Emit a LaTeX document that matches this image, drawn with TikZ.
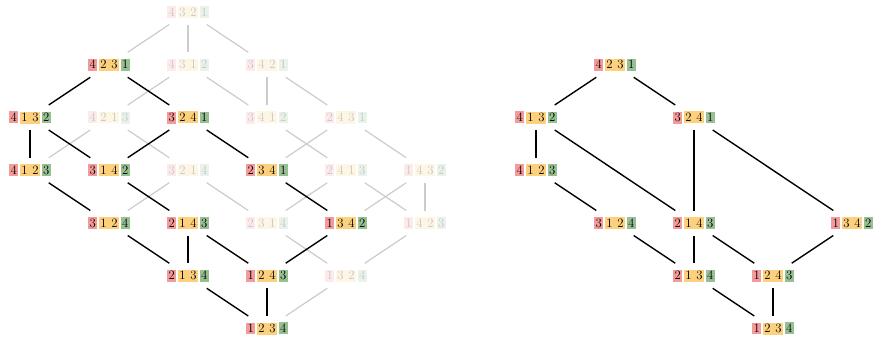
\documentclass[tikz,border=0pt]{standalone}
\usepackage{fontspec}
\usepackage{xcolor}
\definecolor{pr}{RGB}{244,154,154}
\definecolor{py}{RGB}{252,208,124}
\definecolor{pg}{RGB}{150,192,146}
\colorlet{prf}{pr!20}
\colorlet{pyf}{py!20}
\colorlet{pgf}{pg!20}
\colorlet{txf}{black!22}
\setlength{\fboxsep}{1.6pt}
\newcommand\pq[4]{\colorbox{pr}{#1}\hspace{1.4pt}\colorbox{py}{#2\hspace{4.6pt}#3}\hspace{1.4pt}\colorbox{pg}{#4}}
\newcommand\pf[4]{\textcolor{txf}{\colorbox{prf}{#1}\hspace{1.4pt}\colorbox{pyf}{#2\hspace{4.6pt}#3}\hspace{1.4pt}\colorbox{pgf}{#4}}}
\begin{document}
\begin{tikzpicture}[x=1pt,y=-1pt,
  pn/.style={inner sep=0pt,outer sep=0pt,minimum height=25pt,minimum width=44pt,font=\fontsize{12.8}{14}\selectfont},
  dk/.style={line width=1.4pt,black},
  lt/.style={line width=1.2pt,black!20}]
\useasboundingbox (0,0) rectangle (878,340);
% ---------- left diagram ----------
\node[pn] (L4321) at (188,12) {\pf4321};
\node[pn] (L4231) at (109,64.75) {\pq4231};
\node[pn] (L4312) at (188,64.75) {\pf4312};
\node[pn] (L3421) at (267,64.75) {\pf3421};
\node[pn] (L4132) at (30,117.5) {\pq4132};
\node[pn] (L4213) at (109,117.5) {\pf4213};
\node[pn] (L3241) at (188,117.5) {\pq3241};
\node[pn] (L3412) at (267,117.5) {\pf3412};
\node[pn] (L2431) at (346,117.5) {\pf2431};
\node[pn] (L4123) at (30,170.25) {\pq4123};
\node[pn] (L3142) at (109,170.25) {\pq3142};
\node[pn] (L3214) at (188,170.25) {\pf3214};
\node[pn] (L2341) at (267,170.25) {\pq2341};
\node[pn] (L2413) at (346,170.25) {\pf2413};
\node[pn] (L1432) at (425,170.25) {\pf1432};
\node[pn] (L3124) at (109,223) {\pq3124};
\node[pn] (L2143) at (188,223) {\pq2143};
\node[pn] (L2314) at (267,223) {\pf2314};
\node[pn] (L1342) at (346,223) {\pq1342};
\node[pn] (L1423) at (425,223) {\pf1423};
\node[pn] (L2134) at (188,275.75) {\pq2134};
\node[pn] (L1243) at (267,275.75) {\pq1243};
\node[pn] (L1324) at (346,275.75) {\pf1324};
\node[pn] (L1234) at (267,328.5) {\pq1234};
\foreach \a/\b in {4321/4231,4321/4312,4321/3421,4312/4213,4312/3412,3421/3412,3421/2431,
  4213/4123,4213/3214,3412/2413,2431/1432,2431/2341,3214/3124,3214/2314,2413/1423,2413/2314,
  1432/1423,1432/1342,2314/1324,1423/1324,1324/1234}
  \draw[lt] (L\a) -- (L\b);
\foreach \a/\b in {4231/4132,4231/3241,4132/4123,4132/3142,3241/3142,3241/2341,4123/3124,
  3142/2143,2341/1342,3124/2134,2143/2134,2143/1243,1342/1243,2134/1234,1243/1234}
  \draw[dk] (L\a) -- (L\b);
% ---------- right diagram ----------
\node[pn] (R4231) at (615,64.75) {\pq4231};
\node[pn] (R4132) at (536,117.5) {\pq4132};
\node[pn] (R3241) at (694,117.5) {\pq3241};
\node[pn] (R4123) at (536,170.25) {\pq4123};
\node[pn] (R3124) at (615,223) {\pq3124};
\node[pn] (R2143) at (694,223) {\pq2143};
\node[pn] (R1342) at (852,223) {\pq1342};
\node[pn] (R2134) at (694,275.75) {\pq2134};
\node[pn] (R1243) at (773,275.75) {\pq1243};
\node[pn] (R1234) at (773,328.5) {\pq1234};
\foreach \a/\b in {4231/4132,4231/3241,4132/4123,4132/2143,3241/2143,3241/1342,4123/3124,
  3124/2134,2143/2134,2143/1243,1342/1243,2134/1234,1243/1234}
  \draw[dk] (R\a) -- (R\b);
\end{tikzpicture}
\end{document}
